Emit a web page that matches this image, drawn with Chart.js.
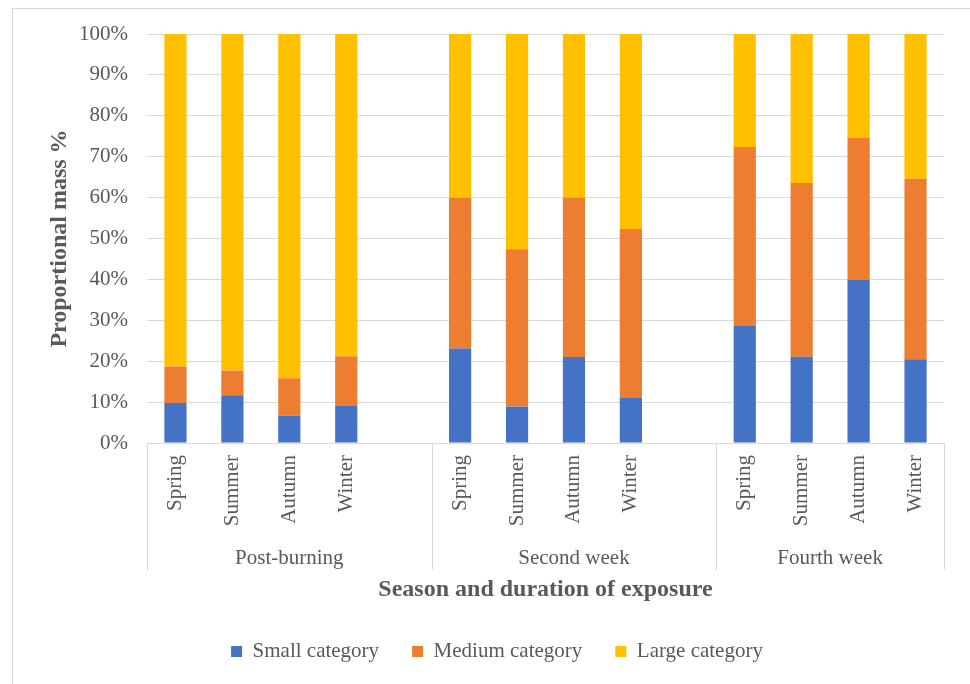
<!DOCTYPE html>
<html>
<head>
<meta charset="utf-8">
<script src="https://cdn.jsdelivr.net/npm/chart.js@4.4.0/dist/chart.umd.min.js"></script>
<style>
  html, body { margin: 0; padding: 0; background: #fff; }
  #wrap { position: relative; width: 970px; height: 684px; overflow: hidden; }
  #frame { position: absolute; left: 12px; top: 8px; width: 1000px; height: 700px;
           border-left: 1px solid #d9d9d9; border-top: 1px solid #d9d9d9; }
  canvas { position: absolute; left: 0; top: 0; }
</style>
</head>
<body>
<div id="wrap"><div id="frame"></div><canvas id="chart" width="970" height="684"></canvas></div>
<script>
// values (percent of mass)
var groups  = ['Post-burning', 'Second week', 'Fourth week'];
var seasons = ['Spring', 'Summer', 'Autumn', 'Winter'];
var small   = [9.8, 11.7, 6.7, 9.2,   23.1, 8.9, 21.0, 11.0,   28.6, 21.1, 39.9, 20.5];
var medium  = [8.9, 6.0, 9.1, 12.0,   36.8, 38.5, 39.0, 41.3,   43.8, 42.5, 34.7, 44.1];
var large   = [81.3, 82.3, 84.2, 78.8, 40.1, 52.6, 40.0, 47.7,  27.6, 36.4, 25.4, 35.4];

var textColor = '#595959';
var gridColor = '#d9d9d9';

// category slots: each group of seasons, with an empty slot between groups
var labels = [];
var groupSlots = [];
groups.forEach(function (g, gi) {
    var start = labels.length;
    seasons.forEach(function (s) { labels.push(s); });
    if (gi < groups.length - 1) labels.push('');
    groupSlots.push({ name: g, start: start, end: labels.length - 1 });
});

function spaced(values) {
    var out = [];
    var k = 0;
    labels.forEach(function (l) {
        if (l === '') out.push(null);
        else out.push(values[k++]);
    });
    return out;
}

Chart.defaults.font.family = '"Liberation Serif", "Times New Roman", serif';
Chart.defaults.color = textColor;

// group names under the season labels, and the divider lines
var groupAxis = {
    id: 'groupAxis',
    afterLayout: function (chart) {
        chart.legend.left += 50;
    },
    afterDraw: function (chart) {
        var ctx = chart.ctx;
        var x = chart.scales.x;
        var area = chart.chartArea;
        var slot = x.getPixelForValue(1) - x.getPixelForValue(0);
        ctx.save();
        ctx.strokeStyle = gridColor;
        ctx.lineWidth = 1;
        ctx.fillStyle = textColor;
        ctx.font = '21px "Liberation Serif"';
        ctx.textAlign = 'center';
        ctx.textBaseline = 'middle';
        groupSlots.forEach(function (g, i) {
            var left = x.getPixelForValue(g.start) - slot / 2;
            var right = x.getPixelForValue(g.end) + slot / 2;
            var edges = i === 0 ? [left, right] : [right];
            edges.forEach(function (e) {
                var px = Math.round(e) + 0.5;
                ctx.beginPath();
                ctx.moveTo(px, area.bottom);
                ctx.lineTo(px, area.bottom + 127);
                ctx.stroke();
            });
            ctx.fillText(g.name, (left + right) / 2, area.bottom + 115);
        });
        ctx.restore();
    }
};

var ctx = document.getElementById('chart').getContext('2d');
var chart = new Chart(ctx, {
    type: 'bar',
    data: {
        labels: labels,
        datasets: [
            { label: 'Small category', data: spaced(small), backgroundColor: '#4472c4' },
            { label: 'Medium category', data: spaced(medium), backgroundColor: '#ed7d31' },
            { label: 'Large category', data: spaced(large), backgroundColor: '#ffc000' }
        ]
    },
    options: {
        responsive: false,
        animation: false,
        layout: { padding: { left: 0, right: 26, top: 34, bottom: 12 } },
        datasets: { bar: { barPercentage: 0.39, categoryPercentage: 1 } },
        scales: {
            x: {
                stacked: true,
                grid: { display: false, drawTicks: false },
                border: { display: false },
                ticks: {
                    autoSkip: false, minRotation: 90, maxRotation: 90,
                    padding: 12, color: textColor, font: { size: 21 }
                },
                title: {
                    display: true, text: 'Season and duration of exposure',
                    color: textColor, font: { size: 24, weight: 'bold' },
                    padding: { top: 0, bottom: 4 }
                },
                afterFit: function (s) { s.height = 165; }
            },
            y: {
                stacked: true, min: 0, max: 100,
                grid: { color: gridColor, drawTicks: false },
                border: { display: false },
                ticks: {
                    stepSize: 10, padding: 19, color: textColor, font: { size: 21 },
                    callback: function (v) { return v + '%'; }
                },
                title: {
                    display: true, text: 'Proportional mass %',
                    color: textColor, font: { size: 24, weight: 'bold' },
                    padding: { top: 45, bottom: 0 }
                },
                afterFit: function (s) { s.width = 147; }
            }
        },
        plugins: {
            legend: {
                position: 'bottom',
                labels: {
                    boxWidth: 11, boxHeight: 11, padding: 33,
                    color: textColor, font: { size: 21 }
                }
            },
            tooltip: { enabled: false }
        }
    },
    plugins: [groupAxis]
});
</script>
</body>
</html>
